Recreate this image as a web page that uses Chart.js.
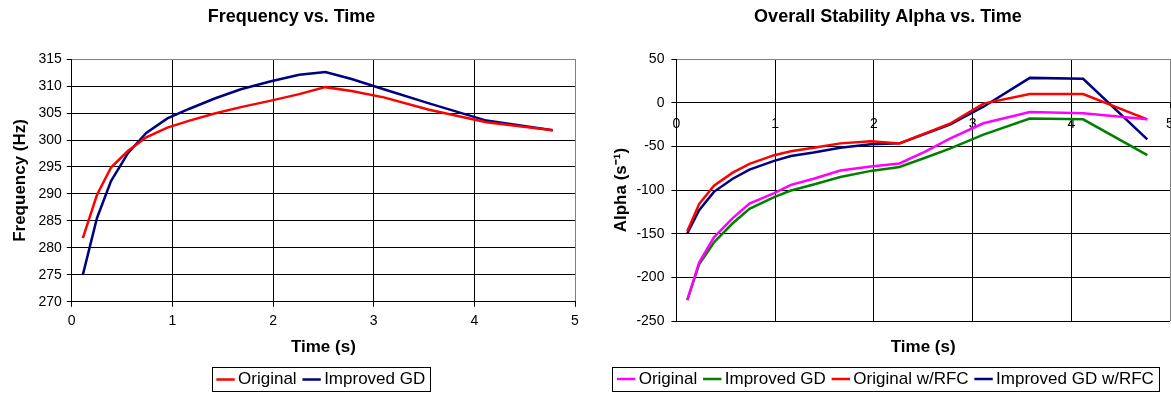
<!DOCTYPE html>
<html>
<head>
<meta charset="utf-8">
<script src="https://cdn.jsdelivr.net/npm/chart.js@4.4.1/dist/chart.umd.min.js"></script>
<style>
  html, body { margin: 0; padding: 0; background: #fff; overflow: hidden; }
  body { width: 1171px; height: 394px; position: relative; }
  #wrapFreq { position: absolute; left: 0; top: 0; width: 585px; height: 394px; }
  #wrapAlpha { position: absolute; left: 585px; top: 0; width: 609px; height: 394px; }
</style>
</head>
<body>
<div id="wrapFreq"><canvas id="freqChart" width="585" height="394"></canvas></div>
<div id="wrapAlpha"><canvas id="alphaChart" width="609" height="394"></canvas></div>
<script>
// ---------------------------------------------------------------------------
// Data
// ---------------------------------------------------------------------------
const freqTime = [0.11, 0.25, 0.39, 0.56, 0.74, 0.95, 1.17, 1.42, 1.68, 1.98, 2.26, 2.52, 2.78, 3.1, 3.55, 4.12, 4.78];
const freqOriginal = [281.8, 289.8, 294.9, 298.0, 300.5, 302.3, 303.6, 304.9, 306.1, 307.3, 308.5, 309.8, 309.1, 307.9, 305.6, 303.3, 301.8];
const freqImproved = [275.0, 285.5, 292.4, 297.6, 301.3, 304.0, 305.8, 307.7, 309.4, 310.9, 312.1, 312.6, 311.3, 309.4, 306.8, 303.6, 301.8];

const alphaTime = [0.11, 0.23, 0.38, 0.57, 0.74, 0.99, 1.16, 1.39, 1.66, 1.97, 2.26, 2.52, 2.77, 3.11, 3.58, 4.12, 4.77];
const alphaOriginal = [-226, -183, -154, -132, -115.5, -103.5, -94, -87, -77.5, -73, -69.5, -56, -41, -23.5, -10.5, -12, -19];
const alphaImproved = [-226, -185, -160, -138, -121.5, -108, -100.5, -93.5, -85, -78, -73.5, -63, -52.5, -36.5, -18, -19, -60];
const alphaOriginalRFC = [-147, -116, -95, -80, -70, -60, -55.5, -51.5, -46.5, -44, -46.5, -35, -24, -1, 10, 10, -19];
const alphaImprovedRFC = [-149.5, -123, -102, -87, -76.5, -66.5, -61, -57, -51.5, -47.5, -46.5, -35.5, -25, -4.5, 28.5, 27.5, -42];

const freqTicks = { min: 270, max: 315, step: 5 };
const alphaTicks = { min: -250, max: 50, step: 50 };
const timeTicks = { min: 0, max: 5, step: 1 };

// ---------------------------------------------------------------------------
Chart.defaults.font.family = "'Liberation Sans', Arial, sans-serif";
Chart.defaults.color = "#000";

function pts(xs, ys) {
  return xs.map((x, i) => ({ x: x, y: ys[i] }));
}

function series(label, xs, ys, color) {
  return {
    label: label,
    data: pts(xs, ys),
    borderColor: color,
    backgroundColor: color,
    borderWidth: 2.5,
    pointRadius: 0,
    tension: 0,
    fill: false
  };
}

// outer edge of the plot (top / right) is grey, inner grid is black
function gridColor(maxVal) {
  return ctx => (ctx.tick && ctx.tick.value === maxVal ? "#808080" : "#000");
}

// box round the legend entries
const legendFrame = {
  id: "legendFrame",
  afterDraw(chart) {
    const boxes = chart.legend && chart.legend.legendHitBoxes;
    if (!boxes || !boxes.length) return;
    const first = boxes[0];
    const last = boxes[boxes.length - 1];
    const cy = first.top + first.height / 2;
    const x0 = Math.round(first.left - 10) + 0.5;
    const x1 = Math.round(last.left + last.width + 5) + 0.5;
    const y0 = Math.round(cy - 12) + 0.5;
    const ctx = chart.ctx;
    ctx.save();
    ctx.strokeStyle = "#000";
    ctx.lineWidth = 1;
    ctx.strokeRect(x0, y0, x1 - x0, 24);
    ctx.restore();
  }
};

const legendLabels = {
  usePointStyle: true,
  pointStyle: "line",
  boxWidth: 8,
  boxHeight: 13,
  padding: 11,
  color: "#000",
  font: { size: 17 }
};

const titleFont = { size: 18, weight: "bold" };
const axisTitleFont = { size: 17, weight: "bold" };
const tickFont = { size: 14 };

// ---------------------------------------------------------------------------
// Frequency vs. Time
// ---------------------------------------------------------------------------
new Chart(document.getElementById("freqChart"), {
  type: "line",
  data: {
    datasets: [
      series("Original", freqTime, freqOriginal, "#ff0000"),
      series("Improved GD", freqTime, freqImproved, "#000080")
    ]
  },
  plugins: [legendFrame],
  options: {
    responsive: false,
    animation: false,
    devicePixelRatio: 1,
    layout: { padding: { left: 8, right: 10, top: 0, bottom: -4 } },
    plugins: {
      title: {
        display: true,
        text: "Frequency vs. Time",
        font: titleFont,
        color: "#000",
        padding: { top: 6, bottom: 31.5 }
      },
      legend: {
        position: "bottom",
        fullSize: false,
        labels: legendLabels
      },
      tooltip: { enabled: false }
    },
    scales: {
      x: {
        type: "linear",
        min: timeTicks.min,
        max: timeTicks.max,
        ticks: { stepSize: timeTicks.step, font: tickFont, padding: 6 },
        grid: { color: gridColor(timeTicks.max), tickColor: "#000", tickLength: 5 },
        border: { color: "#000" },
        title: { display: true, text: "Time (s)", font: axisTitleFont, padding: { top: 2, bottom: 2 } }
      },
      y: {
        min: freqTicks.min,
        max: freqTicks.max,
        ticks: { stepSize: freqTicks.step, font: tickFont, padding: 5 },
        grid: { color: gridColor(freqTicks.max), tickColor: "#000", tickLength: 5 },
        border: { color: "#000" },
        title: { display: true, text: "Frequency (Hz)", font: axisTitleFont, padding: { top: 2, bottom: 3 } }
      }
    }
  }
});

// ---------------------------------------------------------------------------
// Overall Stability Alpha vs. Time
// ---------------------------------------------------------------------------
new Chart(document.getElementById("alphaChart"), {
  type: "line",
  data: {
    datasets: [
      series("Original", alphaTime, alphaOriginal, "#ff00ff"),
      series("Improved GD", alphaTime, alphaImproved, "#008000"),
      series("Original w/RFC", alphaTime, alphaOriginalRFC, "#ff0000"),
      series("Improved GD w/RFC", alphaTime, alphaImprovedRFC, "#000080")
    ]
  },
  plugins: [legendFrame],
  options: {
    responsive: false,
    animation: false,
    devicePixelRatio: 1,
    layout: { padding: { left: 21, right: 24, top: 0, bottom: -3.5 } },
    plugins: {
      title: {
        display: true,
        text: "Overall Stability Alpha vs. Time",
        font: titleFont,
        color: "#000",
        padding: { top: 6, bottom: 31.5 }
      },
      legend: {
        position: "bottom",
        labels: legendLabels
      },
      tooltip: { enabled: false }
    },
    scales: {
      // time axis crosses at alpha = 0
      x: {
        type: "linear",
        position: { y: 0 },
        min: timeTicks.min,
        max: timeTicks.max,
        ticks: { stepSize: timeTicks.step, font: tickFont, padding: 8 },
        grid: { color: gridColor(timeTicks.max), tickColor: "#000", tickLength: 5 },
        border: { color: "#000" },
        afterFit(scale) { scale.height = 0; }
      },
      // carries only the axis title under the plot
      xTitle: {
        type: "linear",
        axis: "x",
        position: "bottom",
        min: timeTicks.min,
        max: timeTicks.max,
        ticks: { display: false },
        grid: { display: false },
        border: { display: false },
        title: { display: true, text: "Time (s)", font: axisTitleFont, padding: { top: 8.5, bottom: 1.5 } }
      },
      y: {
        min: alphaTicks.min,
        max: alphaTicks.max,
        ticks: { stepSize: alphaTicks.step, font: tickFont, padding: 7 },
        grid: { color: gridColor(alphaTicks.max), tickColor: "#000", tickLength: 5 },
        border: { color: "#000" },
        title: { display: true, text: "Alpha (s\u207B\u00B9)", font: axisTitleFont, padding: { top: 5, bottom: -2 } }
      }
    }
  }
});
</script>
</body>
</html>
